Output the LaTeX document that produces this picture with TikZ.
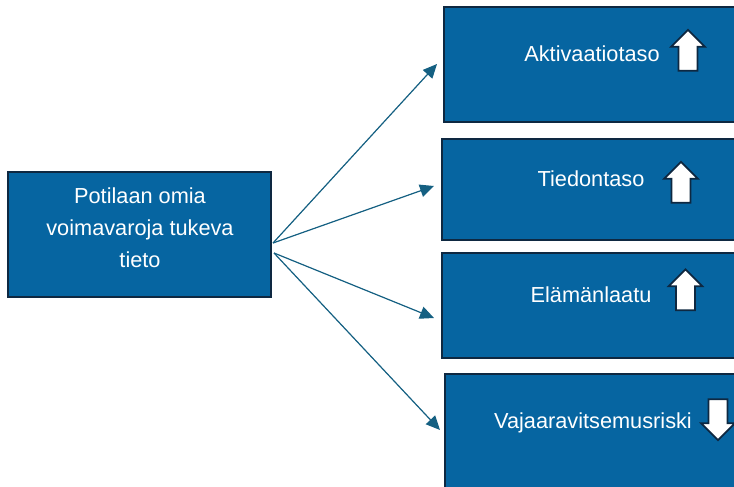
\documentclass[tikz,border=0pt]{standalone}
\usepackage{fontspec}
\setmainfont{Liberation Sans}
\usepackage{tikz}
\usetikzlibrary{shapes, shapes.arrows, positioning, arrows.meta, calc}
\definecolor{boxblue}{RGB}{6,101,161}
\definecolor{boxline}{RGB}{14,40,65}
\definecolor{conncol}{RGB}{21,96,130}
\tikzstyle{srcbox}=[rectangle, draw=boxline, line width=1.5pt, fill=boxblue, inner sep=0pt]
\tikzstyle{outbox}=[rectangle, draw=boxline, line width=1.5pt, fill=boxblue, inner sep=0pt]
\tikzstyle{boxtext}=[text=white, font=\fontsize{16.3}{24}\selectfont, inner sep=0pt]
\tikzstyle{blockup}=[single arrow, draw=boxline, line width=1.3pt, fill=white,
  inner xsep=6.4pt, inner ysep=0pt, single arrow head extend=5.6pt,
  minimum height=30.75pt, shape border rotate=90]
\tikzstyle{blockdown}=[blockup, shape border rotate=270]
\tikzstyle{arrow}=[-{Triangle[length=10.5pt, width=9.5pt]}, draw=conncol, fill=conncol, line width=0.9pt]

\begin{document}
\begin{tikzpicture}[x=0.75pt, y=-0.75pt]
      \clip (0,0) rectangle (734,486);

      \node[srcbox, minimum width=197.25pt, minimum height=93.75pt] (src) at (139.5,234.5) {};
      \node[boxtext, align=center] (srcText) at (140,228) {Potilaan omia\\voimavaroja tukeva\\tieto};

      \node[outbox, minimum width=222pt, minimum height=86.25pt] (akt) at (592,64.5) {};
      \node[outbox, minimum width=223.5pt, minimum height=75.75pt] (tied) at (591,189.5) {};
      \node[outbox, minimum width=223.5pt, minimum height=78.75pt] (elam) at (591,305.5) {};
      \node[outbox, minimum width=222.75pt, minimum height=94.5pt] (vaja) at (593.5,437) {};

      \node[boxtext, anchor=base] (aktText) at (592,61) {Aktivaatiotaso};
      \node[boxtext, anchor=base] (tiedText) at (591,186) {Tiedontaso};
      \node[boxtext, anchor=base] (elamText) at (591,302) {Elämänlaatu};
      \node[boxtext, anchor=base] (vajaText) at (593,428) {Vajaaravitsemusriski};

      \node[blockup] (aktUp) at (688,55) {};
      \node[blockup] (tiedUp) at (681,187) {};
      \node[blockup] (elamUp) at (685.5,294.5) {};
      \node[blockdown] (vajaDown) at (718,415) {};

      \coordinate (srcA) at ($(src.east)+(1,8.5)$);
      \coordinate (srcB) at ($(src.east)+(2,18.5)$);
      \coordinate (tipA) at ($(akt.west)+(-6,-0.5)$);
      \coordinate (tipB) at ($(tied.west)+(-7,-3.5)$);
      \coordinate (tipC) at ($(elam.west)+(-7,12.5)$);
      \coordinate (tipD) at (440,430);

      \draw[arrow] (srcA) -- (tipA);
      \draw[arrow] (srcA) -- (tipB);
      \draw[arrow] (srcB) -- (tipC);
      \draw[arrow] (srcB) -- (tipD);

\end{tikzpicture}
\end{document}
